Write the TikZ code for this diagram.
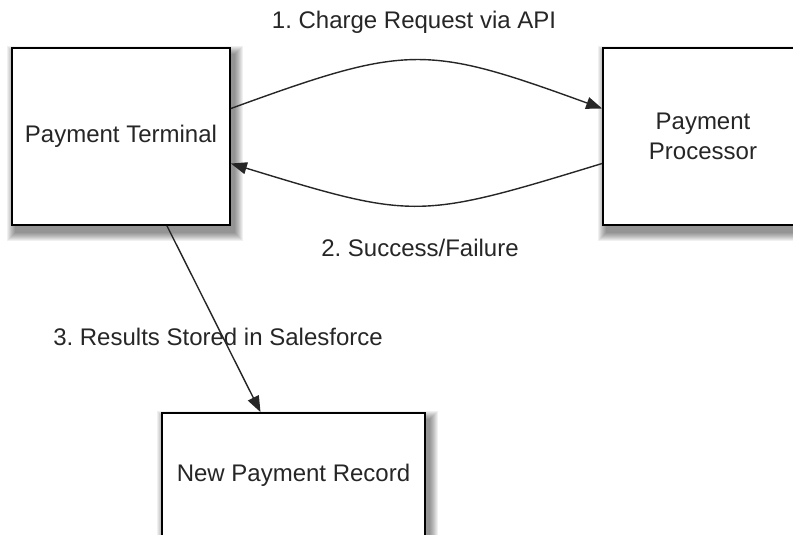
\documentclass[tikz,border=0pt]{standalone}
\usepackage{fontspec}
\setmainfont{Liberation Sans}
\usetikzlibrary{arrows.meta, backgrounds}
\frenchspacing

\begin{document}
\begin{tikzpicture}[x=1bp, y=-1bp, >={Triangle[length=16bp, width=12bp]},
    box/.style={draw, line width=1.8bp, fill=white, align=center, text=black!85},
    flow/.style={->, line width=1.4bp, black!85},
    lbl/.style={text=black!85}]
    \useasboundingbox (0,0) rectangle (793,535);
    \fontsize{24bp}{30bp}\selectfont
    % boxes
    \node[box, minimum width=218bp, minimum height=177bp] (term) at (121,136.5) {Payment Terminal};
    \node[box, minimum width=200bp, minimum height=177bp] (proc) at (703,136.5) {Payment\\Processor};
    \node[box, minimum width=263bp, minimum height=124bp] (rec) at (293.5,475) {New Payment Record};

    % soft shadows behind the boxes
    \begin{scope}[on background layer]
        \foreach \n in {term, proc, rec}
            \foreach \i in {0,...,8}
                \fill[black, opacity=0.06] ([shift={(4-\i,7-\i)}]\n.north west) rectangle ([shift={(4+\i,7+\i)}]\n.south east);
    \end{scope}

    % labels
    \node[lbl] (lblcharge) at (414,22) {1. Charge Request via API};
    \node[lbl] (lblresult) at (420,248) {2. Success/Failure};
    \node[lbl] (lblstore) at (218,337) {3. Results Stored in Salesforce};

    % arrows
    \draw[flow] ([yshift=28bp]term.east) to[out=20, in=160, looseness=1.3] ([yshift=28bp]proc.west);
    \draw[flow] ([yshift=-27bp]proc.west) to[out=-163, in=-17, looseness=1.33] ([yshift=-27bp]term.east);
    \draw[flow] ([xshift=46bp]term.south) -- ([xshift=-33bp]rec.north);
\end{tikzpicture}
\end{document}
